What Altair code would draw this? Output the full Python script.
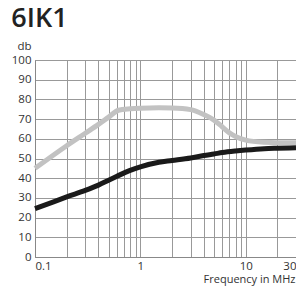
import altair as alt
import pandas as pd

grey_freq = [0.1, 0.2, 0.3, 0.4, 0.5, 0.62, 0.8, 1, 1.5, 2, 3, 4, 5, 6, 7, 8, 10, 15, 20, 30]
grey_db = [45, 56.5, 62.8, 67.3, 71, 74.5, 75.2, 75.5, 75.7, 75.6, 74.8, 72.3, 69.5, 66, 63, 61.2, 59.3, 58.2, 58, 58]

black_freq = [0.1, 0.15, 0.2, 0.3, 0.4, 0.5, 0.6, 0.8, 1, 1.5, 2, 3, 4, 5, 6, 8, 10, 15, 20, 30]
black_db = [24.6, 28, 30.5, 33.8, 36.5, 39, 41, 44, 45.8, 48.1, 49, 50.3, 51.5, 52.3, 53, 53.8, 54.3, 55, 55.2, 55.4]

x_grid = [0.1, 0.2, 0.3, 0.4, 0.5, 0.6, 0.7, 0.8, 0.9, 1, 2, 3, 4, 5, 6, 7, 8, 9, 10, 20, 30]
y_ticks = [0, 10, 20, 30, 40, 50, 60, 70, 80, 90, 100]

df = pd.concat([
    pd.DataFrame({"f": grey_freq, "db": grey_db, "s": "grey"}),
    pd.DataFrame({"f": black_freq, "db": black_db, "s": "black"}),
])

FONT = "Open Sans"

label_align = {
    "condition": [
        {"test": "datum.value <= 0.1", "value": "left"},
        {"test": "datum.value >= 30", "value": "right"},
    ],
    "value": "center",
}

x = alt.X("f:Q", scale=alt.Scale(type="log", domain=[0.1, 30], nice=False),
          axis=alt.Axis(values=x_grid, grid=True, ticks=False, labelOverlap=False,
                        labelExpr="datum.value == 0.1 ? '0.1' : datum.value == 1 ? '1' : datum.value == 10 ? '10' : datum.value == 30 ? '30' : ''",
                        labelAlign=label_align,
                        labelPadding=3, labelFontSize=11.5, labelFont=FONT, labelColor="#333",
                        title="Frequency in MHz", titleFont=FONT, titleFontSize=11, titleFontWeight="normal",
                        titleColor="#333", titleAlign="right", titleAnchor="end", titleX=260, titleY=25,
                        titleBaseline="alphabetic"))
y = alt.Y("db:Q", scale=alt.Scale(domain=[0, 100], nice=False),
          axis=alt.Axis(values=y_ticks, grid=True, ticks=False, labelPadding=4, labelFontSize=11.5,
                        labelFont=FONT, labelColor="#333",
                        title="db", titleFont=FONT, titleFontSize=11.5, titleFontWeight="normal",
                        titleColor="#333", titleAngle=0, titleAlign="left", titleX=-18, titleY=-11,
                        titleBaseline="alphabetic"))

chart = alt.Chart(df).mark_line(strokeWidth=5, interpolate="monotone", strokeCap="butt").encode(
    x=x, y=y,
    color=alt.Color("s:N", scale=alt.Scale(domain=["grey", "black"], range=["#c2c2c2", "#1a1a1a"]), legend=None),
    order=alt.Order("f:Q"),
).properties(
    width=261, height=197,
    autosize=alt.AutoSizeParams(type="none"),
    padding={"left": 27, "top": 52, "right": 0, "bottom": 30},
    title=alt.TitleParams("6IK1", anchor="start", font=FONT, fontSize=27, fontWeight=600,
                          color="#222", dx=0, offset=7),
).configure_axis(
    gridColor="#999", gridOpacity=1, gridWidth=1, domainColor="#888", domainWidth=1,
).configure_view(stroke="#999", strokeWidth=1)

chart.save("out.html", embed_options={"renderer": "svg", "actions": False})
